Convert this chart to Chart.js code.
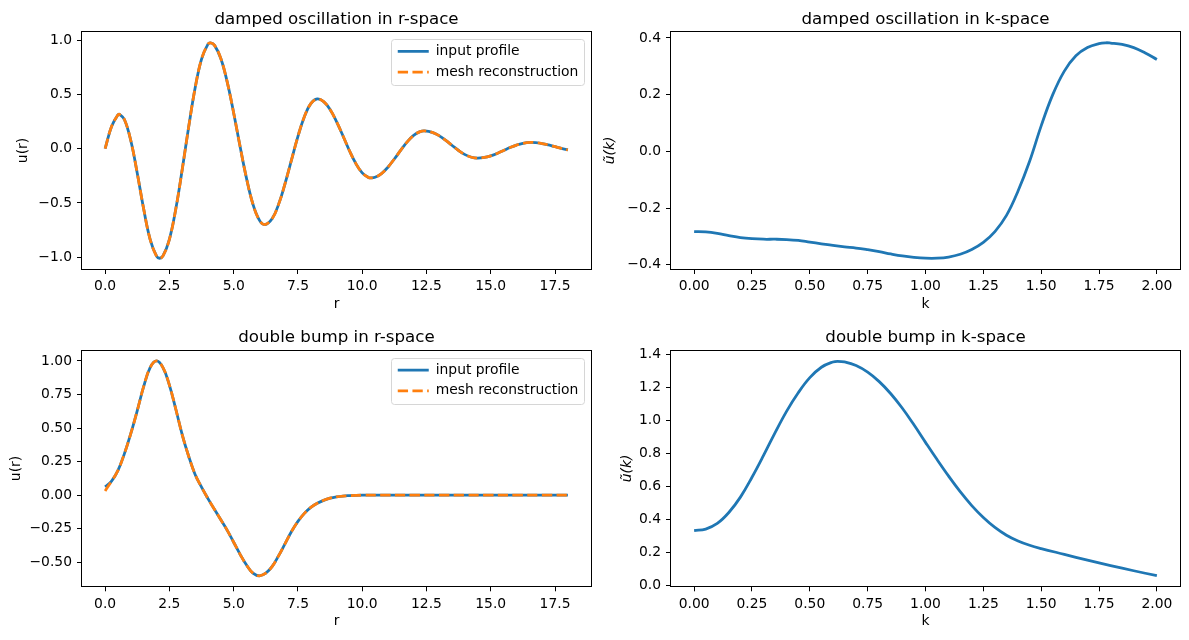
<!DOCTYPE html>
<html>
<head>
<meta charset="utf-8">
<script src="https://cdn.jsdelivr.net/npm/chart.js@4.4.1/dist/chart.umd.min.js"></script>
<style>
html,body{margin:0;padding:0;background:#fff;}
#fig{position:relative;width:1189px;height:640px;overflow:hidden;background:#fff;}
#fig canvas{position:absolute;}
</style>
</head>
<body>
<div id="fig">
  <canvas id="c1" width="595" height="320" style="left:0px;top:0px;width:595px;height:320px"></canvas>
  <canvas id="c2" width="594" height="320" style="left:595px;top:0px;width:594px;height:320px"></canvas>
  <canvas id="c3" width="595" height="320" style="left:0px;top:320px;width:595px;height:320px"></canvas>
  <canvas id="c4" width="594" height="320" style="left:595px;top:320px;width:594px;height:320px"></canvas>
</div>
<script>
// ---------------- data ----------------
// damped oscillation, r-space
const rDamped = [0,0.25,0.5,0.56,0.75,1.0,1.25,1.5,1.75,2.0,2.12,2.25,2.5,2.75,3.0,3.25,3.5,3.75,4.0,4.1,4.25,4.5,4.75,5.0,5.25,5.5,5.75,6.0,6.21,6.5,6.75,7.0,7.25,7.5,7.75,8.0,8.25,8.5,8.75,9.0,9.25,9.5,9.75,10.0,10.25,10.34,10.5,10.75,11.0,11.25,11.5,11.75,12.0,12.25,12.42,12.75,13.0,13.25,13.5,13.75,14.0,14.25,14.48,14.75,15.0,15.25,15.5,15.75,16.0,16.25,16.56,16.75,17.0,17.25,17.5,17.75,18.0];
const uDampedInput = [0.000,0.204,0.312,0.317,0.269,0.073,-0.227,-0.557,-0.835,-0.991,-1.010,-0.989,-0.835,-0.554,-0.190,0.201,0.558,0.826,0.963,0.975,0.954,0.831,0.613,0.329,0.019,-0.274,-0.512,-0.659,-0.700,-0.643,-0.511,-0.321,-0.103,0.113,0.295,0.415,0.458,0.433,0.360,0.250,0.119,-0.017,-0.136,-0.223,-0.267,-0.270,-0.264,-0.230,-0.171,-0.095,-0.014,0.062,0.122,0.157,0.164,0.148,0.118,0.076,0.029,-0.017,-0.055,-0.079,-0.087,-0.081,-0.066,-0.044,-0.017,0.010,0.033,0.049,0.057,0.055,0.047,0.034,0.018,0.002,-0.012];
const uDampedMesh  = [0.000,0.204,0.312,0.317,0.269,0.073,-0.227,-0.557,-0.835,-0.991,-1.010,-0.989,-0.835,-0.554,-0.190,0.201,0.558,0.826,0.963,0.975,0.954,0.831,0.613,0.329,0.019,-0.274,-0.512,-0.659,-0.700,-0.643,-0.511,-0.321,-0.103,0.113,0.295,0.415,0.458,0.433,0.360,0.250,0.119,-0.017,-0.136,-0.223,-0.267,-0.270,-0.264,-0.230,-0.171,-0.095,-0.014,0.062,0.122,0.157,0.164,0.148,0.118,0.076,0.029,-0.017,-0.055,-0.079,-0.087,-0.081,-0.066,-0.044,-0.017,0.010,0.033,0.049,0.057,0.055,0.047,0.034,0.018,0.002,-0.012];

// damped oscillation, k-space
const kDamped = [0,0.05,0.1,0.15,0.2,0.25,0.3,0.35,0.4,0.45,0.5,0.55,0.6,0.65,0.7,0.75,0.8,0.85,0.9,0.95,1.0,1.05,1.1,1.15,1.2,1.25,1.3,1.35,1.4,1.45,1.5,1.55,1.6,1.65,1.7,1.75,1.78,1.8,1.85,1.9,1.95,2.0];
const ukDamped = [-0.283,-0.284,-0.289,-0.297,-0.304,-0.308,-0.310,-0.310,-0.311,-0.314,-0.320,-0.326,-0.332,-0.337,-0.341,-0.347,-0.354,-0.362,-0.369,-0.374,-0.377,-0.377,-0.373,-0.363,-0.346,-0.321,-0.283,-0.226,-0.140,-0.035,0.090,0.200,0.283,0.337,0.366,0.380,0.383,0.382,0.377,0.366,0.347,0.324];

// double bump, r-space
const rBump = [0,0.25,0.5,0.75,1.0,1.25,1.5,1.75,2.0,2.25,2.5,2.75,3.0,3.25,3.5,3.75,4.0,4.25,4.5,4.75,5.0,5.25,5.5,5.75,6.0,6.25,6.5,6.75,7.0,7.25,7.5,7.75,8.0,8.25,8.5,8.75,9.0,9.25,9.5,9.75,10,11,12,13,14,15,16,17,18];
const uBumpInput = [0.062,0.105,0.185,0.310,0.460,0.630,0.810,0.950,1.000,0.950,0.820,0.640,0.450,0.290,0.155,0.060,-0.025,-0.105,-0.183,-0.262,-0.350,-0.440,-0.520,-0.580,-0.600,-0.580,-0.530,-0.450,-0.360,-0.270,-0.195,-0.135,-0.090,-0.060,-0.038,-0.022,-0.012,-0.006,-0.003,-0.001,0,0,0,0,0,0,0,0,0];
const uBumpMesh  = [0.032,0.105,0.185,0.310,0.460,0.630,0.810,0.950,1.000,0.950,0.820,0.640,0.450,0.290,0.155,0.060,-0.025,-0.105,-0.183,-0.262,-0.350,-0.440,-0.520,-0.580,-0.600,-0.580,-0.530,-0.450,-0.360,-0.270,-0.195,-0.135,-0.090,-0.060,-0.038,-0.022,-0.012,-0.006,-0.003,-0.001,0,0,0,0,0,0,0,0,0];

// double bump, k-space
const kBump = [0,0.05,0.1,0.15,0.2,0.25,0.3,0.35,0.4,0.45,0.5,0.55,0.6,0.62,0.65,0.7,0.75,0.8,0.85,0.9,0.95,1.0,1.05,1.1,1.15,1.2,1.25,1.3,1.35,1.4,1.45,1.5,1.6,1.7,1.8,1.9,2.0];
const ukBump = [0.333,0.342,0.376,0.442,0.535,0.655,0.787,0.925,1.055,1.166,1.257,1.320,1.352,1.356,1.352,1.330,1.290,1.233,1.160,1.072,0.972,0.866,0.762,0.662,0.568,0.484,0.412,0.352,0.305,0.270,0.244,0.224,0.189,0.154,0.121,0.090,0.060];

// ticks
const rTickValues = [0,2.5,5,7.5,10,12.5,15,17.5];
const rTickLabels = ["0.0","2.5","5.0","7.5","10.0","12.5","15.0","17.5"];
const kTickValues = [0,0.25,0.5,0.75,1.0,1.25,1.5,1.75,2.0];
const kTickLabels = ["0.00","0.25","0.50","0.75","1.00","1.25","1.50","1.75","2.00"];
const yTickValuesTL = [-1,-0.5,0,0.5,1];
const yTickLabelsTL = ["\u22121.0","\u22120.5","0.0","0.5","1.0"];
const yTickValuesTR = [-0.4,-0.2,0,0.2,0.4];
const yTickLabelsTR = ["\u22120.4","\u22120.2","0.0","0.2","0.4"];
const yTickValuesBL = [-0.5,-0.25,0,0.25,0.5,0.75,1.0];
const yTickLabelsBL = ["\u22120.50","\u22120.25","0.00","0.25","0.50","0.75","1.00"];
const yTickValuesBR = [0,0.2,0.4,0.6,0.8,1.0,1.2,1.4];
const yTickLabelsBR = ["0.0","0.2","0.4","0.6","0.8","1.0","1.2","1.4"];

// ---------------- styling ----------------
const FS_TICK = 13.89, FS_TITLE = 16.67;
const BLUE = '#1f77b4', ORANGE = '#ff7f0e';
const LW = 2.78;
Chart.defaults.font.family = "'DejaVu Sans', sans-serif";
Chart.defaults.color = '#000';

const pts = (xs, ys) => xs.map((x, i) => ({x: x, y: ys[i]}));

const figPlugin = {
  id: 'figframe',
  afterLayout(chart) {
    const lg = chart.legend;
    if (!lg || !lg.options.display) return;
    const ca = chart.chartArea;
    const lab = lg.options.labels;
    const fs = FS_TICK;
    const ctx = chart.ctx;
    ctx.save();
    ctx.font = fs + "px 'DejaVu Sans'";
    const tw = Math.max.apply(null, chart.data.datasets.map(d => ctx.measureText(d.label).width));
    ctx.restore();
    const frameR = ca.right - 7, frameT = ca.top + 7;
    const textX = frameR - 5.6 - tw;
    const lineX = textX - lab.pointStyleWidth - fs / 2;
    const row1 = frameT + 12.4;
    lg.left = lineX - lab.padding;
    lg.top = row1 - fs / 2 - lab.padding;
    lg.right = lg.left + lg.width;
    lg.bottom = lg.top + lg.height;
    chart.$legFrame = {x: textX - 45, y: frameT, w: frameR - (textX - 45), h: 45.7};
  },
  beforeDraw(chart) {
    const f = chart.$legFrame;
    if (!f) return;
    const ctx = chart.ctx;
    ctx.save();
    const x = Math.round(f.x) + 0.5, y = Math.round(f.y) + 0.5, w = Math.round(f.w), h = Math.round(f.h), r = 3;
    ctx.beginPath();
    ctx.moveTo(x + r, y);
    ctx.lineTo(x + w - r, y); ctx.arcTo(x + w, y, x + w, y + r, r);
    ctx.lineTo(x + w, y + h - r); ctx.arcTo(x + w, y + h, x + w - r, y + h, r);
    ctx.lineTo(x + r, y + h); ctx.arcTo(x, y + h, x, y + h - r, r);
    ctx.lineTo(x, y + r); ctx.arcTo(x, y, x + r, y, r);
    ctx.closePath();
    ctx.fillStyle = 'rgba(255,255,255,0.8)';
    ctx.fill();
    ctx.strokeStyle = '#d6d6d6';
    ctx.lineWidth = 1;
    ctx.stroke();
    ctx.restore();
  },
  afterDatasetsDraw(chart) {
    const ca = chart.chartArea, ctx = chart.ctx;
    ctx.save();
    ctx.strokeStyle = '#000';
    ctx.lineWidth = 1;
    const l = Math.round(ca.left) - 0.5, t = Math.round(ca.top) - 0.5;
    const r = Math.round(ca.right) + 0.5, b = Math.round(ca.bottom) + 0.5;
    ctx.strokeRect(l, t, r - l, b - t);
    ctx.restore();
  }
};

function makeChart(id, spec) {
  const labelFor = (vals, labs) => (v) => {
    const i = vals.findIndex(t => Math.abs(t - v) < 1e-9);
    return i >= 0 ? labs[i] : '';
  };
  const datasets = spec.series.map(s => ({
    label: s.label,
    data: pts(s.x, s.y),
    borderColor: s.color,
    backgroundColor: s.color,
    borderWidth: LW,
    borderDash: s.dash || [],
    pointRadius: 0,
    pointHoverRadius: 0,
    fill: false,
    tension: 0.4,
    order: s.order
  }));
  return new Chart(document.getElementById(id), {
    type: 'line',
    data: {datasets: datasets},
    options: {
      responsive: false,
      animation: false,
      devicePixelRatio: 1,
      events: [],
      layout: {padding: {left: 0, right: spec.padRight, top: 0, bottom: 0}},
      plugins: {
        title: {
          display: true, text: spec.title, fullSize: false,
          font: {size: FS_TITLE, weight: 'normal'}, color: '#000',
          padding: spec.titlePad
        },
        legend: {
          display: !!spec.legend,
          position: 'chartArea',
          align: 'start',
          labels: {
            usePointStyle: true, pointStyle: 'line', pointStyleWidth: 31,
            padding: 6.8, color: '#000',
            font: {size: FS_TICK},
            sort: (a, b) => a.datasetIndex - b.datasetIndex,
            generateLabels: (chart) => {
              const items = Chart.defaults.plugins.legend.labels.generateLabels(chart);
              items.forEach(it => {
                const ds = chart.data.datasets[it.datasetIndex];
                it.lineDash = ds.borderDash || [];
                it.lineWidth = ds.borderWidth;
                it.strokeStyle = ds.borderColor;
                it.lineCap = 'butt';
              });
              return items;
            }
          }
        },
        tooltip: {enabled: false}
      },
      scales: {
        x: {
          type: 'linear', min: spec.xMin, max: spec.xMax,
          afterBuildTicks: (sc) => { sc.ticks = spec.xTicks.map(v => ({value: v})); },
          afterFit: (sc) => { sc.height = spec.xHeight; },
          ticks: {autoSkip: false, maxRotation: 0, minRotation: 0, padding: 4.5,
                  font: {size: FS_TICK}, color: '#000',
                  callback: labelFor(spec.xTicks, spec.xLabels)},
          grid: {display: true, drawOnChartArea: false, drawTicks: true, tickLength: 5,
                 color: '#000', tickColor: '#000', tickWidth: 1},
          border: {display: false},
          title: {display: true, text: spec.xTitle, font: {size: FS_TICK}, color: '#000',
                  padding: {top: 0, bottom: spec.xTitlePad}}
        },
        y: {
          type: 'linear', min: spec.yMin, max: spec.yMax,
          afterBuildTicks: (sc) => { sc.ticks = spec.yTicks.map(v => ({value: v})); },
          afterFit: (sc) => { sc.width = spec.yWidth; },
          ticks: {autoSkip: false, padding: 5, font: {size: FS_TICK}, color: '#000',
                  callback: labelFor(spec.yTicks, spec.yLabels)},
          grid: {display: true, drawOnChartArea: false, drawTicks: true, tickLength: 5,
                 color: '#000', tickColor: '#000', tickWidth: 1},
          border: {display: false},
          title: {display: true, text: spec.yTitle,
                  font: {size: FS_TICK, style: spec.yTitleItalic ? 'italic' : 'normal'}, color: '#000',
                  padding: {top: spec.yTitlePad, bottom: 0}}
        }
      }
    },
    plugins: [figPlugin]
  });
}

makeChart('c1', {
  title: 'damped oscillation in r-space', titlePad: {top: 10, bottom: 2},
  padRight: 4, yWidth: 82, xHeight: 51, xTitlePad: 7.7, yTitlePad: 15.2,
  xMin: -0.9, xMax: 18.9, yMin: -1.109, yMax: 1.075,
  xTicks: rTickValues, xLabels: rTickLabels, yTicks: yTickValuesTL, yLabels: yTickLabelsTL,
  xTitle: 'r', yTitle: 'u(r)', legend: true,
  series: [
    {label: 'input profile', x: rDamped, y: uDampedInput, color: BLUE, order: 1},
    {label: 'mesh reconstruction', x: rDamped, y: uDampedMesh, color: ORANGE, dash: [10.3, 4.4], order: 0}
  ]
});

makeChart('c2', {
  title: 'damped oscillation in k-space', titlePad: {top: 10, bottom: 2},
  padRight: 9, yWidth: 76, xHeight: 51, xTitlePad: 7.7, yTitlePad: 7.2,
  xMin: -0.1, xMax: 2.1, yMin: -0.415, yMax: 0.421,
  xTicks: kTickValues, xLabels: kTickLabels, yTicks: yTickValuesTR, yLabels: yTickLabelsTR,
  xTitle: 'k', yTitle: '\u0169(k)', yTitleItalic: true, legend: false,
  series: [
    {label: 'damped oscillation', x: kDamped, y: ukDamped, color: BLUE, order: 0}
  ]
});

makeChart('c3', {
  title: 'double bump in r-space', titlePad: {top: 7.7, bottom: 3},
  padRight: 4, yWidth: 82, xHeight: 53.7, xTitlePad: 10.4, yTitlePad: 7.7,
  xMin: -0.9, xMax: 18.9, yMin: -0.678, yMax: 1.076,
  xTicks: rTickValues, xLabels: rTickLabels, yTicks: yTickValuesBL, yLabels: yTickLabelsBL,
  xTitle: 'r', yTitle: 'u(r)', legend: true,
  series: [
    {label: 'input profile', x: rBump, y: uBumpInput, color: BLUE, order: 1},
    {label: 'mesh reconstruction', x: rBump, y: uBumpMesh, color: ORANGE, dash: [10.3, 4.4], order: 0}
  ]
});

makeChart('c4', {
  title: 'double bump in k-space', titlePad: {top: 7.7, bottom: 3},
  padRight: 9, yWidth: 76, xHeight: 53.7, xTitlePad: 10.4, yTitlePad: 24.3,
  xMin: -0.1, xMax: 2.1, yMin: -0.004, yMax: 1.42,
  xTicks: kTickValues, xLabels: kTickLabels, yTicks: yTickValuesBR, yLabels: yTickLabelsBR,
  xTitle: 'k', yTitle: '\u0169(k)', yTitleItalic: true, legend: false,
  series: [
    {label: 'double bump', x: kBump, y: ukBump, color: BLUE, order: 0}
  ]
});
</script>
</body>
</html>
